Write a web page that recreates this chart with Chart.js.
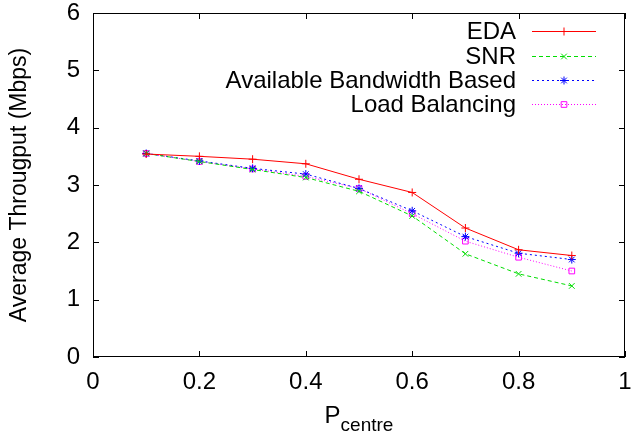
<!DOCTYPE html>
<html>
<head>
<meta charset="utf-8">
<script src="https://cdn.jsdelivr.net/npm/chart.js@4/dist/chart.umd.min.js"></script>
<style>
  html, body { margin: 0; padding: 0; background: #fff; }
  #wrap { width: 632px; height: 433px; }
</style>
</head>
<body>
<div id="wrap"><canvas id="chart" width="632" height="433"></canvas></div>
<script>
// data
const pCentre = [0.1, 0.2, 0.3, 0.4, 0.5, 0.6, 0.7, 0.8, 0.9];
const eda = [3.54, 3.50, 3.45, 3.37, 3.10, 2.87, 2.25, 1.87, 1.77];
const snr = [3.55, 3.41, 3.27, 3.13, 2.89, 2.46, 1.80, 1.45, 1.24];
const availBw = [3.55, 3.42, 3.29, 3.19, 2.94, 2.55, 2.10, 1.81, 1.70];
const loadBal = [3.55, 3.41, 3.28, 3.15, 2.94, 2.50, 2.02, 1.74, 1.50];
const seriesNames = ['EDA', 'SNR', 'Available Bandwidth Based', 'Load Balancing'];
const xTicks = [0, 0.2, 0.4, 0.6, 0.8, 1];
const yTicks = [0, 1, 2, 3, 4, 5, 6];

const FONT = '"Liberation Sans", Arial, sans-serif';

const toPoints = vals => vals.map((v, i) => ({ x: pCentre[i], y: v }));

const makeSet = (label, vals, color, dash, style) => ({
    label: label,
    data: toPoints(vals),
    borderColor: color,
    backgroundColor: 'rgba(0,0,0,0)',
    borderWidth: 1,
    borderDash: dash,
    pointStyle: style,
    pointRadius: 4,
    pointBorderColor: color,
    pointBorderWidth: 1,
    pointBackgroundColor: 'rgba(0,0,0,0)',
    tension: 0
});

const datasets = [
    makeSet(seriesNames[0], eda, '#ff0000', [], 'cross'),
    makeSet(seriesNames[1], snr, '#00dd00', [4, 3], 'crossRot'),
    makeSet(seriesNames[2], availBw, '#0000ff', [2, 3], 'star'),
    makeSet(seriesNames[3], loadBal, '#ff00ff', [1, 2], 'rect')
];

// gnuplot-like frame: inward ticks on all sides, key in top right, subscripted x title
const framePlugin = {
    id: 'frame',
    afterDraw(chart) {
        const ctx = chart.ctx;
        const a = chart.chartArea;
        const xs = chart.scales.x, ys = chart.scales.y;
        ctx.save();
        ctx.strokeStyle = '#000';
        ctx.lineWidth = 1;
        ctx.setLineDash([]);
        ctx.strokeRect(a.left + 0.5, a.top + 0.5, a.right - a.left - 1, a.bottom - a.top - 1);
        ctx.beginPath();
        xTicks.forEach(t => {
            const px = Math.round(xs.getPixelForValue(t)) + 0.5;
            ctx.moveTo(px, a.bottom); ctx.lineTo(px, a.bottom - 6);
            ctx.moveTo(px, a.top); ctx.lineTo(px, a.top + 6);
        });
        yTicks.forEach(t => {
            const py = Math.round(ys.getPixelForValue(t)) + 0.5;
            ctx.moveTo(a.left, py); ctx.lineTo(a.left + 6, py);
            ctx.moveTo(a.right, py); ctx.lineTo(a.right - 6, py);
        });
        ctx.stroke();

        // key
        ctx.font = '24px ' + FONT;
        ctx.fillStyle = '#000';
        ctx.textAlign = 'right';
        ctx.textBaseline = 'middle';
        const rowY = [31, 56, 80, 104];
        chart.data.datasets.forEach((ds, i) => {
            const y = rowY[i];
            ctx.fillText(ds.label, 516, y + 1);
            ctx.save();
            ctx.strokeStyle = ds.borderColor;
            ctx.fillStyle = 'rgba(0,0,0,0)';
            ctx.setLineDash(ds.borderDash);
            ctx.beginPath();
            ctx.moveTo(532, y + 0.5); ctx.lineTo(596, y + 0.5);
            ctx.stroke();
            ctx.setLineDash([]);
            Chart.helpers.drawPoint(ctx, {
                pointStyle: ds.pointStyle, radius: 4, borderWidth: 1
            }, 564, y + 0.5);
            ctx.restore();
        });

        // x title with subscript
        ctx.fillStyle = '#000';
        ctx.textAlign = 'left';
        ctx.textBaseline = 'alphabetic';
        ctx.font = '24px ' + FONT;
        const mainW = ctx.measureText('P').width;
        ctx.font = '19px ' + FONT;
        const subW = ctx.measureText('centre').width;
        const startX = (a.left + a.right) / 2 - (mainW + subW) / 2;
        ctx.font = '24px ' + FONT;
        ctx.fillText('P', startX, 423);
        ctx.font = '19px ' + FONT;
        ctx.fillText('centre', startX + mainW, 431);
        ctx.restore();
    }
};

new Chart(document.getElementById('chart'), {
    type: 'line',
    data: { datasets: datasets },
    options: {
        responsive: false,
        animation: false,
        devicePixelRatio: 1,
        layout: { padding: { top: 13, right: 7, left: 0, bottom: 0 } },
        plugins: {
            legend: { display: false },
            tooltip: { enabled: false }
        },
        scales: {
            x: {
                type: 'linear',
                min: 0,
                max: 1,
                afterBuildTicks: axis => { axis.ticks = xTicks.map(v => ({ value: v })); },
                afterFit: axis => {
                    axis.height = 76;
                    axis.paddingLeft = 0;
                    axis.paddingRight = 0;
                },
                grid: { display: false, drawTicks: false },
                border: { display: false },
                ticks: {
                    padding: 11,
                    color: '#000',
                    font: { family: FONT, size: 24 },
                    callback: v => String(v)
                }
            },
            y: {
                min: 0,
                max: 6,
                afterBuildTicks: axis => { axis.ticks = yTicks.map(v => ({ value: v })); },
                afterFit: axis => {
                    axis.width = 93;
                    axis.paddingTop = 0;
                    axis.paddingBottom = 0;
                },
                grid: { display: false, drawTicks: false },
                border: { display: false },
                title: {
                    display: true,
                    text: 'Average Througput (Mbps)',
                    color: '#000',
                    font: { family: FONT, size: 23 },
                    padding: { top: 6, bottom: 4 }
                },
                ticks: {
                    padding: 13,
                    color: '#000',
                    font: { family: FONT, size: 24 }
                }
            }
        }
    },
    plugins: [framePlugin]
});
</script>
</body>
</html>
